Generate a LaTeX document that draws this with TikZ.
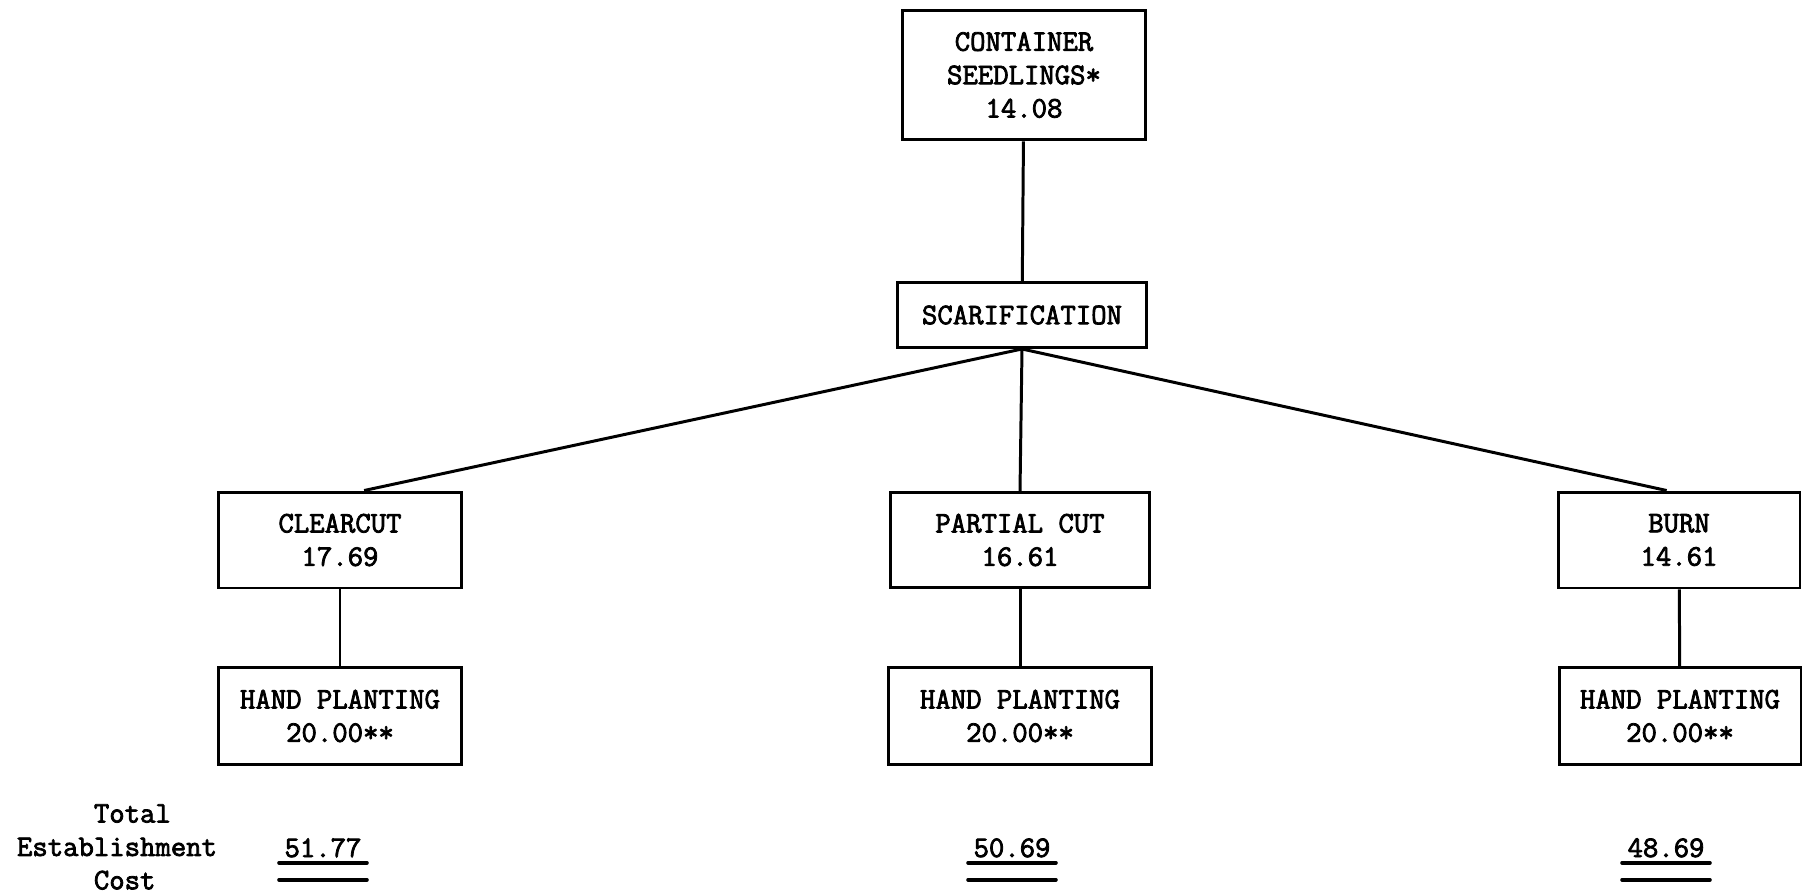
\documentclass[tikz,border=0pt]{standalone}
\usepackage{fontspec}
\setmonofont{Latin Modern Mono}[AutoFakeBold=2.6]
\begin{document}
\begin{tikzpicture}[x=0.02cm, y=-0.02cm,
	font=\ttfamily\bfseries\fontsize{17pt}{19pt}\selectfont,
	box/.style={draw, line width=1.7pt, align=center, inner sep=0pt},
	link/.style={line width=1.7pt},
	uline/.style={line width=2.3pt, line cap=round}]
	\useasboundingbox (0,0) rectangle (1802,895);
	% boxes
	\node[box, minimum width=4.88cm, minimum height=2.6cm] (seed) at (1024,75) {CONTAINER\\SEEDLINGS*\\14.08};
	\node[box, minimum width=5.0cm, minimum height=1.3cm] (scar) at (1022,315) {SCARIFICATION};
	\node[box, minimum width=4.88cm, minimum height=1.92cm] (clear) at (340,540) {CLEARCUT\\17.69};
	\node[box, minimum width=5.2cm, minimum height=1.9cm] (part) at (1020,540) {PARTIAL CUT\\16.61};
	\node[box, minimum width=4.84cm, minimum height=1.92cm] (burn) at (1679,540) {BURN\\14.61};
	\node[box, minimum width=4.88cm, minimum height=1.94cm] (hand1) at (340,716) {HAND PLANTING\\20.00**};
	\node[box, minimum width=5.26cm, minimum height=1.94cm] (hand2) at (1020,716) {HAND PLANTING\\20.00**};
	\node[box, minimum width=4.84cm, minimum height=1.94cm] (hand3) at (1680,716) {HAND PLANTING\\20.00**};
	% connectors
	\draw[link] (seed) -- (scar);
	\draw[link] (scar.south) -- (clear.64);
	\draw[link] (scar.south) -- (part.north);
	\draw[link] (scar.south) -- (burn.104);
	\draw[link] (clear) -- (hand1);
	\draw[link] (part) -- (hand2);
	\draw[link] (burn) -- (hand3);
	% totals
	\node[align=left] (label) at (117,847) {\hphantom{Estab}Total\\Establishment\\\hphantom{Estab}Cost};
	\node[anchor=base, inner sep=0.1cm] (tot1) at (323,857) {51.77};
	\node[anchor=base, inner sep=0.1cm] (tot2) at (1012,857) {50.69};
	\node[anchor=base, inner sep=0.1cm] (tot3) at (1666,857) {48.69};
	\foreach \t in {tot1,tot2,tot3} {
		\draw[uline] (\t.south west) -- (\t.south east);
		\draw[uline] ([yshift=-0.34cm]\t.south west) -- ([yshift=-0.34cm]\t.south east);
	}
\end{tikzpicture}
\end{document}
